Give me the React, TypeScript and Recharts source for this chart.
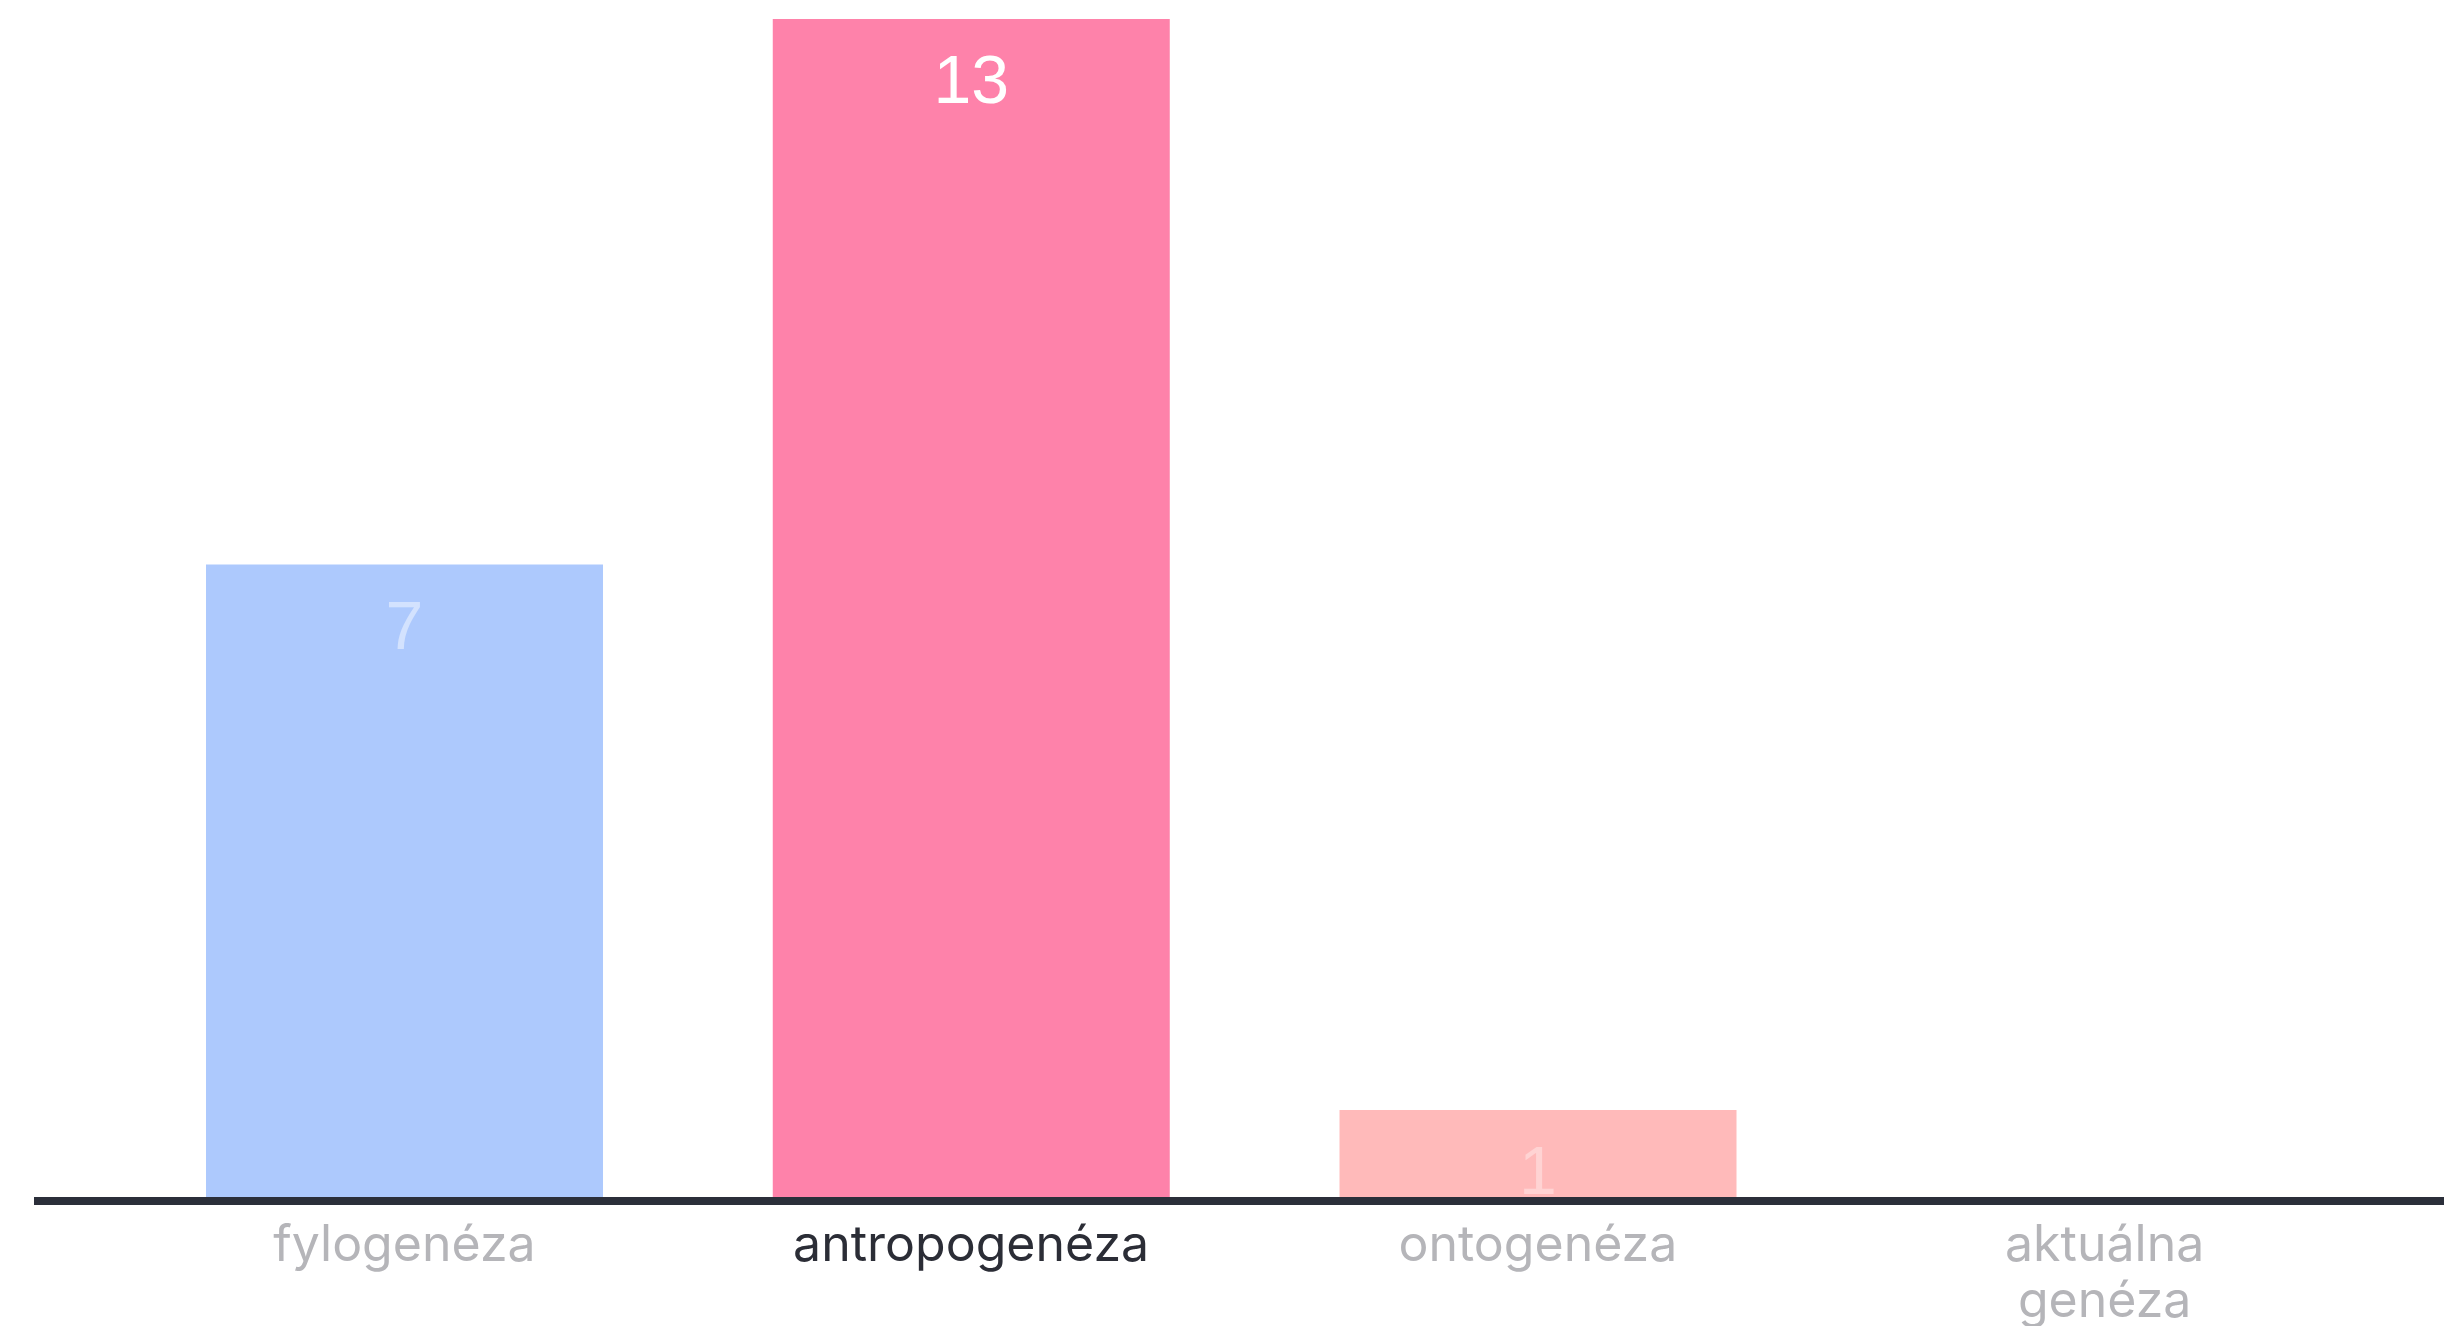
import { BarChart, Bar, XAxis, YAxis, Cell, LabelList } from 'recharts';

const categories = ['fylogenéza', 'antropogenéza', 'ontogenéza', 'aktuálna genéza'];
const counts = [7, 13, 1, 0];
const barColors = ['#adc9fd', '#fe82aa', '#ffbaba', '#e0e0e0'];
const valueColors = ['#d3e2fe', '#ffffff', '#ffd3d3', '#ffffff'];
const tickColors = ['#b5b5b9', '#2b2d36', '#b5b5b9', '#b5b5b9'];

const data = categories.map((name, i) => ({ name, value: counts[i] }));

const CategoryTick = ({ x, y, payload, index }: any) => {
  const words = String(payload.value).split(' ');
  const lines = words.length > 1 && payload.value.length > 12 ? words : [payload.value];
  return (
    <text x={x} y={y} textAnchor="middle" fill={tickColors[index]} fontFamily="Inter, sans-serif" fontSize={50}>
      {lines.map((l: string, i: number) => (
        <tspan key={i} x={x} dy={i === 0 ? 52 : 56}>{l}</tspan>
      ))}
    </text>
  );
};

const ValueLabel = ({ x, y, width, value, index }: any) => {
  if (!value) return null;
  return (
    <text x={x + width / 2} y={y + 84} textAnchor="middle" fill={valueColors[index]}
      fontFamily="'Liberation Sans', Arial, sans-serif" fontSize={68}>
      {value}
    </text>
  );
};

export default function App() {
  return (
    <div style={{ position: 'absolute', left: 0, top: 0, width: 2444, height: 1326, background: '#fff' }}>
      <BarChart width={2444} height={1326} data={data} margin={{ top: 19, right: 0, bottom: 95, left: 34 }}
        barCategoryGap="15%">
        <XAxis dataKey="name" interval={0} tickLine={false} height={30} padding={{ left: 87, right: 56 }}
          axisLine={{ stroke: '#2b2f3a', strokeWidth: 8 }} tick={<CategoryTick />} />
        <YAxis hide domain={[0, 13]} />
        <Bar dataKey="value" isAnimationActive={false}>
          {data.map((d, i) => <Cell key={d.name} fill={barColors[i]} />)}
          <LabelList dataKey="value" content={<ValueLabel />} />
        </Bar>
      </BarChart>
    </div>
  );
}
